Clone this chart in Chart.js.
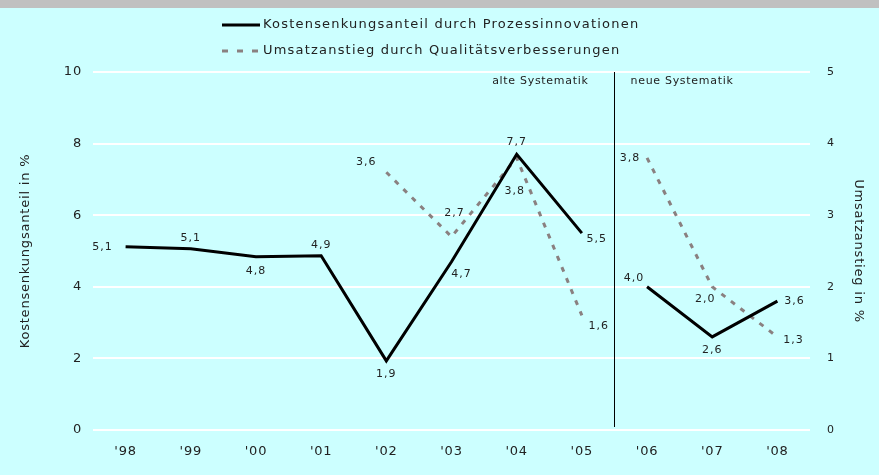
<!DOCTYPE html>
<html>
<head>
<meta charset="utf-8">
<script src="https://cdn.jsdelivr.net/npm/chart.js@4/dist/chart.umd.min.js"></script>
<style>
  html, body { margin: 0; padding: 0; background: #ccffff; }
  #wrap { width: 879px; height: 475px; position: relative; }
</style>
</head>
<body>
<div id="wrap"><canvas id="c" width="879" height="475"></canvas></div>
<script>
// ---- data ----
const categories = ["'98", "'99", "'00", "'01", "'02", "'03", "'04", "'05", "'06", "'07", "'08"];
const kostenValues = [5.12, 5.06, 4.84, 4.87, 1.93, 4.7, 7.7, 5.5, 4.0, 2.6, 3.6];
const umsatzValues = [null, null, null, null, 3.6, 2.7, 3.8, 1.6, 3.8, 2.0, 1.3];
const leftTicks = [0, 2, 4, 6, 8, 10];
const rightTicks = [0, 1, 2, 3, 4, 5];
const seriesNames = ['Kostensenkungsanteil durch Prozessinnovationen', 'Umsatzanstieg durch Qualitätsverbesserungen'];
const leftTitle = 'Kostensenkungsanteil in %';
const rightTitle = 'Umsatzanstieg in %';
const periodLabels = ['alte Systematik', 'neue Systematik'];
const breakAfterIndex = 7; // series break between '05 and '06

const FONT = 'DejaVu Sans';
const TEXT = '#222222';
const SPACING = '0.8px';

// label offsets (style): [dx, dy] relative to each point
const kostenLabelOffsets = [[-23,0],[0,-11],[0,14],[0,-11],[0,13],[10,12],[0,-12],[15,6],[-13,-9],[0,13],[17,0]];
const umsatzLabelOffsets = [[0,0],[0,0],[0,0],[0,0],[-20,-10],[3,-24],[-2,33],[17,11],[-17,0],[-7,12],[16,3]];

const fmt = v => v.toFixed(1).replace('.', ',');

const bgPlugin = {
  id: 'bg',
  beforeInit(chart) { chart.ctx.letterSpacing = SPACING; },
  beforeLayout(chart) { chart.ctx.letterSpacing = SPACING; },
  beforeDraw(chart) {
    const ctx = chart.ctx;
    ctx.letterSpacing = SPACING;
    ctx.save();
    ctx.fillStyle = '#ccffff';
    ctx.fillRect(0, 0, chart.width, chart.height);
    ctx.fillStyle = '#c0c0c0';
    ctx.fillRect(0, 0, chart.width, 8);
    ctx.restore();
  }
};

const decorPlugin = {
  id: 'decor',
  afterDatasetsDraw(chart) {
    const ctx = chart.ctx;
    const xs = chart.scales.x;
    const area = chart.chartArea;
    ctx.save();
    // separator line
    const sx = Math.round(xs.getPixelForValue(breakAfterIndex + 0.5)) + 0.5;
    ctx.strokeStyle = '#000';
    ctx.lineWidth = 1;
    ctx.beginPath();
    ctx.moveTo(sx, area.top);
    ctx.lineTo(sx, area.bottom - 3);
    ctx.stroke();
    // period labels
    ctx.letterSpacing = '0.7px';
    ctx.font = '11px "' + FONT + '"';
    ctx.fillStyle = TEXT;
    ctx.textBaseline = 'middle';
    ctx.textAlign = 'right';
    ctx.fillText(periodLabels[0], sx - 26, area.top + 9);
    ctx.textAlign = 'left';
    ctx.fillText(periodLabels[1], sx + 16, area.top + 9);
    // data labels
    ctx.letterSpacing = '1px';
    ctx.textAlign = 'center';
    const sets = [[0, kostenLabelOffsets], [1, umsatzLabelOffsets]];
    sets.forEach(([di, offs]) => {
      const meta = chart.getDatasetMeta(di);
      const data = chart.data.datasets[di].data;
      meta.data.forEach((pt, i) => {
        const v = data[i];
        if (v === null || v === undefined) return;
        const o = offs[i];
        ctx.fillText(fmt(v), pt.x + o[0], pt.y + o[1]);
      });
    });
    // legend
    ctx.letterSpacing = '1.2px';
    ctx.font = '13px "' + FONT + '"';
    ctx.textAlign = 'left';
    const lx0 = 222, lx1 = 260;
    ctx.strokeStyle = '#000';
    ctx.lineWidth = 3;
    ctx.beginPath(); ctx.moveTo(lx0, 25); ctx.lineTo(lx1, 25); ctx.stroke();
    ctx.fillText(seriesNames[0], 263, 25);
    ctx.strokeStyle = chart.data.datasets[1].borderColor;
    ctx.setLineDash([6, 9]);
    ctx.beginPath(); ctx.moveTo(lx0, 51); ctx.lineTo(lx1, 51); ctx.stroke();
    ctx.setLineDash([]);
    ctx.fillText(seriesNames[1], 263, 51);
    ctx.restore();
  }
};

const hideBreak = ctx => (ctx.p0DataIndex === breakAfterIndex ? 'rgba(0,0,0,0)' : undefined);

new Chart(document.getElementById('c'), {
  type: 'line',
  data: {
    labels: categories,
    datasets: [
      {
        label: seriesNames[0],
        data: kostenValues,
        yAxisID: 'y',
        borderColor: '#000000',
        borderWidth: 3,
        pointRadius: 0,
        tension: 0,
        fill: false,
        segment: { borderColor: hideBreak }
      },
      {
        label: seriesNames[1],
        data: umsatzValues,
        yAxisID: 'y1',
        borderColor: '#8a8080',
        borderWidth: 3,
        borderDash: [5, 7],
        pointRadius: 0,
        tension: 0,
        fill: false,
        spanGaps: false,
        segment: { borderColor: hideBreak }
      }
    ]
  },
  options: {
    responsive: false,
    animation: false,
    devicePixelRatio: 1,
    layout: { padding: { top: 72, left: 0, right: 0, bottom: 0 } },
    plugins: { legend: { display: false }, tooltip: { enabled: false } },
    scales: {
      x: {
        offset: true,
        grid: { display: false, drawTicks: false },
        border: { display: false },
        ticks: { color: TEXT, font: { family: FONT, size: 13 }, padding: 14, maxRotation: 0 },
        afterFit(s) { s.height = 45; }
      },
      y: {
        position: 'left',
        min: 0, max: 10,
        afterBuildTicks(s) { s.ticks = leftTicks.map(v => ({ value: v })); },
        grid: { color: '#ffffff', lineWidth: 2, drawTicks: false },
        border: { display: false },
        ticks: { color: TEXT, font: { family: FONT, size: 13 }, padding: 11 },
        title: { display: true, text: leftTitle, color: TEXT, font: { family: FONT, size: 13 }, padding: { top: 18, bottom: 0 } },
        afterFit(s) { s.width = 93; }
      },
      y1: {
        position: 'right',
        min: 0, max: 5,
        afterBuildTicks(s) { s.ticks = rightTicks.map(v => ({ value: v })); },
        grid: { display: false, drawTicks: false },
        border: { display: false },
        ticks: { color: TEXT, font: { family: FONT, size: 11 }, padding: 17 },
        title: { display: true, text: rightTitle, color: TEXT, font: { family: FONT, size: 13 }, padding: { top: 13, bottom: 0 } },
        afterFit(s) { s.width = 69; }
      }
    }
  },
  plugins: [bgPlugin, decorPlugin]
});
</script>
</body>
</html>
